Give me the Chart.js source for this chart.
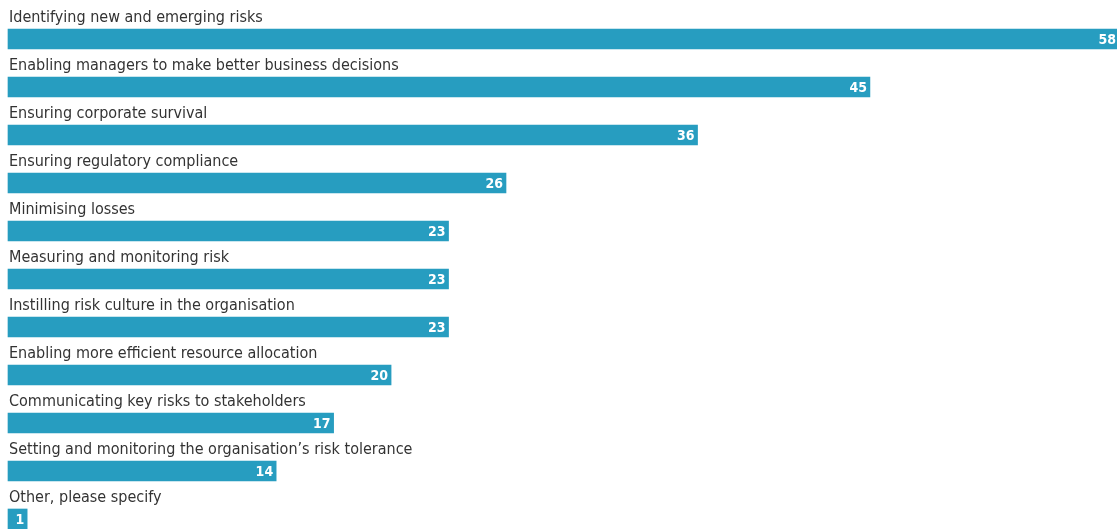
<!DOCTYPE html>
<html>
<head>
<meta charset="utf-8">
<script src="https://cdn.jsdelivr.net/npm/chart.js@4/dist/chart.umd.min.js"></script>
<style>
  html, body { margin: 0; padding: 0; background: #fff; overflow: hidden; }
  #wrap { width: 1117px; height: 529px; position: relative; }
</style>
</head>
<body>
<div id="wrap"><canvas id="benefits"></canvas></div>
<script>
const categories = [
    'Identifying new and emerging risks',
    'Enabling managers to make better business decisions',
    'Ensuring corporate survival',
    'Ensuring regulatory compliance',
    'Minimising losses',
    'Measuring and monitoring risk',
    'Instilling risk culture in the organisation',
    'Enabling more efficient resource allocation',
    'Communicating key risks to stakeholders',
    'Setting and monitoring the organisation\u2019s risk tolerance',
    'Other, please specify'
];
const percentages = [58, 45, 36, 26, 23, 23, 23, 20, 17, 14, 1];

const BAR_COLOR = '#279dc0';
const TEXT_COLOR = '#333333';
const LABEL_FONT = '16px "DejaVu Sans Condensed", "Liberation Sans Narrow", sans-serif';
const VALUE_FONT = 'bold 14px "DejaVu Sans Condensed", "Liberation Sans Narrow", sans-serif';

// category names above each bar, value inside the bar end
const barText = {
    id: 'barText',
    afterDatasetsDraw(chart) {
        const ctx = chart.ctx;
        const meta = chart.getDatasetMeta(0);
        ctx.save();
        meta.data.forEach((bar, i) => {
            ctx.font = LABEL_FONT;
            ctx.fillStyle = TEXT_COLOR;
            ctx.textAlign = 'left';
            ctx.textBaseline = 'alphabetic';
            ctx.fillText(categories[i], bar.base + 1, bar.y - 17);

            ctx.font = VALUE_FONT;
            ctx.fillStyle = '#ffffff';
            ctx.textAlign = 'right';
            ctx.textBaseline = 'middle';
            ctx.fillText(String(percentages[i]), bar.x - 3, bar.y + 1);
        });
        ctx.restore();
    }
};

new Chart(document.getElementById('benefits'), {
    type: 'bar',
    data: {
        labels: categories,
        datasets: [{
            data: percentages,
            backgroundColor: BAR_COLOR,
            borderWidth: 0,
            barThickness: 20,
            clip: false
        }]
    },
    options: {
        indexAxis: 'y',
        responsive: true,
        maintainAspectRatio: false,
        animation: false,
        layout: { padding: { left: 8, right: 0, top: 39, bottom: 10 } },
        scales: {
            x: { display: false, min: 0, max: 57.9 },
            y: { display: false, offset: false }
        },
        plugins: {
            legend: { display: false },
            tooltip: { enabled: false }
        }
    },
    plugins: [barText]
});
</script>
</body>
</html>
